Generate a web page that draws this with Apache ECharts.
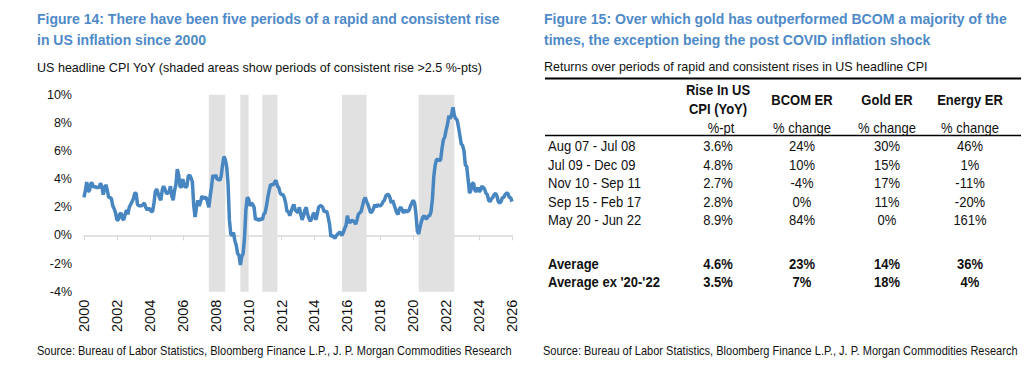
<!DOCTYPE html>
<html><head><meta charset="utf-8">
<script src="https://cdn.jsdelivr.net/npm/echarts@6/dist/echarts.min.js"></script>
<style>html,body{margin:0;padding:0;background:#fff}#c{width:1024px;height:365px}</style>
</head><body><div id="c"></div>
<script>
// ---------------- DATA ----------------
const leftTitle = ['Figure 14: There have been five periods of a rapid and consistent rise', 'in US inflation since 2000'];
const leftSubtitle = 'US headline CPI YoY (shaded areas show periods of consistent rise >2.5 %-pts)';
const rightTitle = ['Figure 15: Over which gold has outperformed BCOM a majority of the', 'times, the exception being the post COVID inflation shock'];
const rightSubtitle = 'Returns over periods of rapid and consistent rises in US headline CPI';
const sourceText = 'Source: Bureau of Labor Statistics, Bloomberg Finance L.P., J. P. Morgan Commodities Research';

const cpiStart = '2000-01';
const cpiYoY = [
  2.7, 3.2, 3.8, 3.1, 3.2, 3.7, 3.7, 3.4, 3.5, 3.4, 3.4, 3.4,
  3.7, 3.5, 2.9, 3.3, 3.6, 3.2, 2.7, 2.7, 2.6, 2.1, 1.9, 1.6,
  1.1, 1.1, 1.5, 1.6, 1.2, 1.1, 1.5, 1.8, 1.5, 2.0, 2.2, 2.4,
  2.6, 3.0, 3.0, 2.2, 2.1, 2.1, 2.1, 2.2, 2.3, 2.0, 1.8, 1.9,
  1.9, 1.7, 1.7, 2.3, 3.1, 3.3, 3.0, 2.7, 2.5, 3.2, 3.5, 3.3,
  3.0, 3.0, 3.1, 3.5, 2.8, 2.5, 3.2, 3.6, 4.7, 4.3, 3.5, 3.4,
  4.0, 3.6, 3.4, 3.5, 4.2, 4.3, 4.1, 3.8, 2.1, 1.3, 2.0, 2.5,
  2.1, 2.4, 2.8, 2.6, 2.7, 2.7, 2.4, 2.0, 2.8, 3.5, 4.3, 4.1,
  4.3, 4.0, 4.0, 3.9, 4.2, 5.0, 5.6, 5.4, 4.9, 3.7, 1.1, 0.1,
  0.0, 0.2, -0.4, -0.7, -1.3, -1.4, -2.1, -1.5, -1.3, -0.2, 1.8, 2.7,
  2.6, 2.1, 2.3, 2.2, 2.0, 1.1, 1.2, 1.1, 1.1, 1.2, 1.1, 1.5,
  1.6, 2.1, 2.7, 3.2, 3.6, 3.6, 3.6, 3.8, 3.9, 3.5, 3.4, 3.0,
  2.9, 2.9, 2.7, 2.3, 1.7, 1.7, 1.4, 1.7, 2.0, 2.2, 1.8, 1.7,
  1.6, 2.0, 1.5, 1.1, 1.4, 1.8, 2.0, 1.5, 1.2, 1.0, 1.2, 1.5,
  1.6, 1.1, 1.5, 2.0, 2.1, 2.1, 2.0, 1.7, 1.7, 1.7, 1.3, 0.8,
  -0.1, 0.0, -0.1, -0.2, 0.0, 0.1, 0.2, 0.2, 0.0, 0.2, 0.5, 0.7,
  1.4, 1.0, 0.9, 1.1, 1.0, 1.0, 0.8, 1.1, 1.5, 1.6, 1.7, 2.1,
  2.5, 2.7, 2.4, 2.2, 1.9, 1.6, 1.7, 1.9, 2.2, 2.0, 2.2, 2.1,
  2.1, 2.2, 2.4, 2.5, 2.8, 2.9, 2.9, 2.7, 2.3, 2.5, 2.2, 1.9,
  1.6, 1.5, 1.9, 2.0, 1.8, 1.6, 1.8, 1.7, 1.7, 1.8, 2.1, 2.3,
  2.5, 2.3, 1.5, 0.3, 0.1, 0.6, 1.0, 1.3, 1.4, 1.2, 1.2, 1.4,
  1.4, 1.7, 2.6, 4.2, 5.0, 5.4, 5.4, 5.3, 5.4, 6.2, 6.8, 7.0,
  7.5, 7.9, 8.5, 8.3, 8.6, 9.1, 8.5, 8.3, 8.2, 7.7, 7.1, 6.5,
  6.4, 6.0, 5.0, 4.9, 4.0, 3.0, 3.2, 3.7, 3.7, 3.2, 3.1, 3.4,
  3.1, 3.2, 3.5, 3.4, 3.3, 3.0, 2.9, 2.5, 2.4, 2.6, 2.7, 2.9,
  3.0, 2.8, 2.4, 2.3, 2.4, 2.7, 2.7, 2.9, 3.0, 3.0, 2.7, 2.7,
  2.4
];
const bandPeriods = [
  ['2007-08', '2008-07'],
  ['2009-07', '2009-12'],
  ['2010-11', '2011-09'],
  ['2015-09', '2017-02'],
  ['2020-05', '2022-06']
];

const tableHeaders = [['Rise In US', 'CPI (YoY)'], ['BCOM ER'], ['Gold ER'], ['Energy ER']];
const tableUnits = ['%-pt', '% change', '% change', '% change'];
const periods = ['Aug 07 - Jul 08', 'Jul 09 - Dec 09', 'Nov 10 - Sep 11', 'Sep 15 - Feb 17', 'May 20 - Jun 22'];
const cpiRise = [3.6, 4.8, 2.7, 2.8, 8.9];
const bcomRet = [24, 10, -4, 0, 84];
const goldRet = [30, 15, 17, 11, 0];
const energyRet = [46, 1, -11, -20, 161];
const avgLabels = ['Average', "Average ex '20-'22"];
const avgCpi = [4.6, 3.5];
const avgBcom = [23, 7];
const avgGold = [14, 18];
const avgEnergy = [36, 4];

// ---------------- HELPERS ----------------
const FONT = "'Liberation Sans', Arial, Helvetica, sans-serif";
const mctx = document.createElement('canvas').getContext('2d');
function measure(t, size, weight) { mctx.font = weight + ' ' + size + 'px ' + FONT; return mctx.measureText(t).width; }
function ym(s) { const p = s.split('-'); return +p[0] + (+p[1] - 1) / 12; }
function txt(t, x, y, o) {
  o = o || {};
  const size = o.size || 13, weight = o.weight || 'normal';
  return {
    type: 'text', x: x, y: y, silent: true, scaleX: o.scale || 1, scaleY: o.scaleY || 1, z: 10,
    style: { text: t, x: 0, y: 0, fontSize: size, fontWeight: weight, fontFamily: FONT,
      fill: o.color || '#111', align: o.align || 'left', verticalAlign: 'middle' }
  };
}
const pct1 = v => v.toFixed(1) + '%';
const pct0 = v => v + '%';

// ---------------- GRAPHICS ----------------
const BLUE = '#4f8ac8';
const g = [];
const ltScale = 463 / measure(leftTitle[0], 14, 'bold');
leftTitle.forEach((t, i) => g.push(txt(t, 37, 19.5 + i * 20.5, { size: 14, weight: 'bold', color: BLUE, scale: ltScale })));
g.push(txt(leftSubtitle, 37, 67.5, { size: 13, scale: 446 / measure(leftSubtitle, 13, 'normal') }));
const rtScale = 463 / measure(rightTitle[0], 14, 'bold');
rightTitle.forEach((t, i) => g.push(txt(t, 544, 19.5 + i * 20.5, { size: 14, weight: 'bold', color: BLUE, scale: rtScale })));
g.push(txt(rightSubtitle, 544, 66, { size: 13, scale: 384 / measure(rightSubtitle, 13, 'normal') }));
const srcScale = 475 / measure(sourceText, 11, 'normal');
g.push(txt(sourceText, 37, 351, { size: 11, scale: srcScale, scaleY: 1.1 }));
g.push(txt(sourceText, 543, 351, { size: 11, scale: srcScale, scaleY: 1.1 }));

// table
const colX = [718, 802, 887, 970];
const TS = 1.1; // slight vertical stretch as in reference
g.push({ type: 'line', silent: true, shape: { x1: 545, y1: 78.5, x2: 1021, y2: 78.5 }, style: { stroke: '#000', lineWidth: 2 } });
g.push({ type: 'line', silent: true, shape: { x1: 545, y1: 135.5, x2: 1021, y2: 135.5 }, style: { stroke: '#000', lineWidth: 1.3 } });
tableHeaders.forEach((h, c) => {
  if (h.length === 2) h.forEach((t, k) => g.push(txt(t, colX[c], 90 + k * 19, { weight: 'bold', align: 'center', scaleY: TS })));
  else g.push(txt(h[0], colX[c], 100, { weight: 'bold', align: 'center', scaleY: TS }));
  g.push(txt(tableUnits[c], colX[c] + (c === 0 ? 3 : 0), 128, { align: 'center', scaleY: TS }));
});
periods.forEach((p, r) => {
  const y = 146.5 + r * 18.5;
  g.push(txt(p, 548, y, { scaleY: TS }));
  [pct1(cpiRise[r]), pct0(bcomRet[r]), pct0(goldRet[r]), pct0(energyRet[r])].forEach((v, c) => g.push(txt(v, colX[c], y, { align: 'center', scaleY: TS })));
});
avgLabels.forEach((p, r) => {
  const y = 264 + r * 18.5;
  g.push(txt(p, 548, y, { weight: 'bold', scaleY: TS }));
  [pct1(avgCpi[r]), pct0(avgBcom[r]), pct0(avgGold[r]), pct0(avgEnergy[r])].forEach((v, c) => g.push(txt(v, colX[c], y, { weight: 'bold', align: 'center', scaleY: TS })));
});

// ---------------- CHART ----------------
const x0 = ym(cpiStart);
const lineData = cpiYoY.map((v, i) => [x0 + i / 12, v]);
const areas = bandPeriods.map(b => [{ xAxis: ym(b[0]) }, { xAxis: ym(b[1]) + 1 / 12 }]);

const chart = echarts.init(document.getElementById('c'), null, { renderer: 'svg' });
chart.setOption({
  animation: false,
  backgroundColor: '#fff',
  textStyle: { fontFamily: FONT },
  grid: { left: 84, right: 512, top: 94.7, bottom: 73.3, containLabel: false },
  xAxis: [
    { type: 'value', position: 'bottom', min: 2000, max: 2026, interval: 2,
      axisLine: { show: false, onZero: false }, axisTick: { show: false }, splitLine: { show: false },
      axisLabel: { rotate: 90, margin: 8, fontSize: 14.5, color: '#111', fontFamily: FONT, formatter: v => String(v) } },
    { type: 'value', position: 'bottom', min: 2000, max: 2026, interval: 2,
      axisLine: { show: true, onZero: true, lineStyle: { color: '#d9d9d9', width: 1.5 } },
      axisTick: { show: true, inside: false, length: 5, lineStyle: { color: '#d9d9d9', width: 1 } },
      axisLabel: { show: false }, splitLine: { show: false } }
  ],
  yAxis: { type: 'value', min: -4, max: 10, interval: 2,
    axisLine: { show: false }, axisTick: { show: false }, splitLine: { show: false },
    axisLabel: { margin: 12, fontSize: 12.5, color: '#111', fontFamily: FONT, formatter: '{value}%' } },
  series: [{
    type: 'line', xAxisIndex: 0, data: lineData, showSymbol: false, symbol: 'none', clip: false,
    lineStyle: { color: '#4886c1', width: 3.5 }, z: 3,
    markArea: { silent: true, itemStyle: { color: '#e1e1e1' }, data: areas }
  }],
  graphic: g
});
</script></body></html>
